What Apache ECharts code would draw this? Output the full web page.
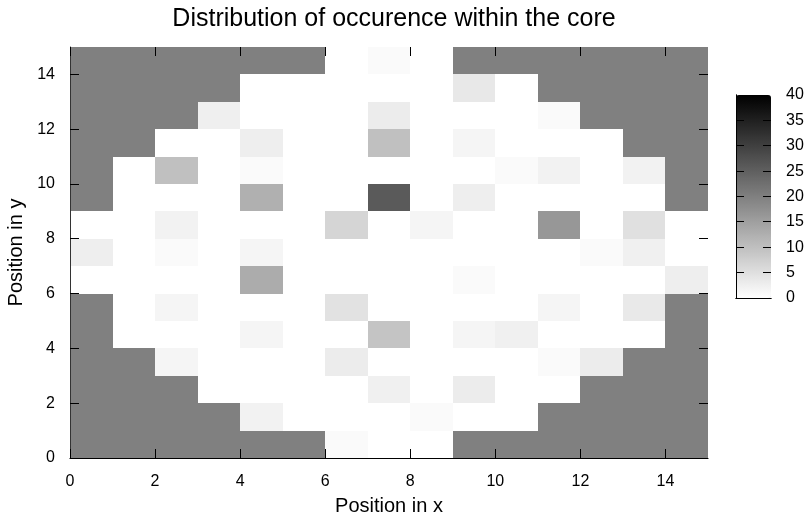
<!DOCTYPE html>
<html>
<head>
<meta charset="utf-8">
<script src="https://cdn.jsdelivr.net/npm/echarts@6/dist/echarts.min.js"></script>
<style>html,body{margin:0;padding:0;background:#fff;}#c{width:808px;height:515px;}</style>
</head>
<body>
<div id="c"></div>
<script>
// Cell positions (x and y cell index, each cell spans [i, i+1])
var xCells = [0,1,2,3,4,5,6,7,8,9,10,11,12,13,14];
var yCells = [0,1,2,3,4,5,6,7,8,9,10,11,12,13,14];
// Occurrence per row (y = 0 bottom ... 14 top), columns x = 0..14
var rowY0  = [20,20,20,20,20,20,0.8,0,0,20,20,20,20,20,20];
var rowY1  = [20,20,20,20,2,0,0,0,0.8,0,0,20,20,20,20];
var rowY2  = [20,20,20,0,0,0,0,2.4,0,3,0,0,20,20,20];
var rowY3  = [20,20,1.6,0,0,0,3,0,0,0,0,0.8,3,20,20];
var rowY4  = [20,0,0,0,1.6,0,0,9.3,0,1.6,2.4,0,0,0,20];
var rowY5  = [20,0,1.6,0,0,0,4.5,0,0,0,0,1.6,0,3.5,20];
var rowY6  = [0,0,0,0,13,0,0,0,0,0.8,0,0,0,0,2.7];
var rowY7  = [2.7,0,0.8,0,1.6,0,0,0,0,0,0,0,0.8,2.4,0];
var rowY8  = [0,0,2,0,0,0,6.6,0,1.6,0,0,16.3,0,4.9,0];
var rowY9  = [20,0,0,0,12.4,0,0,25.9,0,2.7,0,0,0,0,20];
var rowY10 = [20,0,9.9,0,0.8,0,0,0,0,0,0.8,2,0,2,20];
var rowY11 = [20,20,0,0,2.7,0,0,9.9,0,1.6,0,0,0,20,20];
var rowY12 = [20,20,20,2.5,0,0,0,3,0,0,0,0.8,20,20,20];
var rowY13 = [20,20,20,20,0,0,0,0,0,3.6,0,20,20,20,20];
var rowY14 = [20,20,20,20,20,20,0,0.8,0,20,20,20,20,20,20];
// Tick labels
var axisTicks = [0,2,4,6,8,10,12,14];
var colorTicks = [0,5,10,15,20,25,30,35,40];

var rows = [rowY0,rowY1,rowY2,rowY3,rowY4,rowY5,rowY6,rowY7,rowY8,rowY9,rowY10,rowY11,rowY12,rowY13,rowY14];
var data = [];
rows.forEach(function (r, yi) { r.forEach(function (v, xi) { data.push([xCells[xi], yCells[yi], v]); }); });
var tickData = axisTicks.map(function (t) { return [t, t]; });
var cTickData = colorTicks.filter(function (t) { return t > 0 && t < 40; }).map(function (t) { return [0, t]; });

var FONT = 'Liberation Sans, Arial, sans-serif';
var chart = echarts.init(document.getElementById('c'), null, {renderer: 'canvas'});
var G = {left: 70, top: 47, width: 638, height: 411};
var C = {left: 736, top: 95, width: 35, height: 203};
var tickFmt = function (v) { return axisTicks.indexOf(v) >= 0 ? String(v) : ''; };
var TL = 9, CTL = 8;

function crisp(v) { return Math.round(v - 0.5) + 0.5; }
function line(x1, y1, x2, y2) {
  return {type: 'line', shape: {x1: x1, y1: y1, x2: x2, y2: y2},
          style: {stroke: '#000', lineWidth: 1}};
}

function renderCell(params, api) {
  var x = api.value(0), y = api.value(1);
  var p0 = api.coord([x, y + 1]);
  var p1 = api.coord([x + 1, y]);
  var x0 = Math.round(p0[0]), y0 = Math.round(p0[1]);
  var x1 = Math.round(p1[0]), y1 = Math.round(p1[1]);
  return {
    type: 'rect',
    shape: {x: x0, y: y0, width: x1 - x0, height: y1 - y0},
    style: {fill: api.visual('color'), stroke: null}
  };
}
// inward ticks on all four sides of the plot frame
function renderTick(params, api) {
  var t = api.value(0);
  var b = api.coord([t, 0]), tp = api.coord([t, 15]);
  var l = api.coord([0, t]), r = api.coord([15, t]);
  var bx = crisp(b[0]), ly = crisp(l[1]);
  return {type: 'group', children: [
    line(bx, b[1], bx, b[1] - TL),
    line(bx, tp[1], bx, tp[1] + TL),
    line(l[0], ly, l[0] + TL, ly),
    line(r[0], ly, r[0] - TL, ly)
  ]};
}
// inward ticks on both sides of the colour bar
function renderCTick(params, api) {
  var v = api.value(1);
  var l = api.coord([0, v]), r = api.coord([1, v]);
  var y = crisp(l[1]);
  return {type: 'group', children: [
    line(l[0], y, l[0] + CTL, y),
    line(r[0], y, r[0] - CTL, y)
  ]};
}

chart.setOption({
  animation: false,
  backgroundColor: '#fff',
  title: {
    text: 'Distribution of occurence within the core',
    left: 389, textAlign: 'center', top: 2,
    textStyle: {fontFamily: FONT, fontWeight: 'normal', fontSize: 25, color: '#000'}
  },
  grid: [
    {left: G.left, top: G.top, width: G.width, height: G.height, outerBoundsMode: 'none', containLabel: false},
    {left: C.left, top: C.top, width: C.width, height: C.height, outerBoundsMode: 'none', containLabel: false}
  ],
  xAxis: [
    {type: 'value', gridIndex: 0, min: 0, max: 15, interval: 2, position: 'bottom', z: 10,
     name: 'Position in x', nameLocation: 'middle', nameGap: 38,
     nameTextStyle: {fontFamily: FONT, fontSize: 20, color: '#000'},
     axisLine: {show: true, lineStyle: {color: '#bbb', width: 1}},
     axisTick: {show: false},
     axisLabel: {fontFamily: FONT, fontSize: 16, color: '#000', margin: 16, formatter: tickFmt, showMaxLabel: false},
     splitLine: {show: false}},
    {type: 'value', gridIndex: 0, min: 0, max: 15, interval: 2, position: 'top', z: 10,
     axisLine: {show: true, lineStyle: {color: '#000', width: 1}},
     axisTick: {show: false}, axisLabel: {show: false}, splitLine: {show: false}},
    {type: 'value', gridIndex: 1, min: 0, max: 1, position: 'bottom', z: 10,
     axisLine: {show: true, lineStyle: {color: '#000', width: 1}},
     axisTick: {show: false}, axisLabel: {show: false}, splitLine: {show: false}},
    {type: 'value', gridIndex: 1, min: 0, max: 1, position: 'top', z: 10,
     axisLine: {show: true, lineStyle: {color: '#000', width: 1}},
     axisTick: {show: false}, axisLabel: {show: false}, splitLine: {show: false}}
  ],
  yAxis: [
    {type: 'value', gridIndex: 0, min: 0, max: 15, interval: 2, position: 'left', z: 10,
     name: 'Position in y', nameLocation: 'middle', nameGap: 42, nameRotate: 90,
     nameTextStyle: {fontFamily: FONT, fontSize: 20, color: '#000'},
     axisLine: {show: false}, axisTick: {show: false},
     axisLabel: {fontFamily: FONT, fontSize: 16, color: '#000', margin: 15, formatter: tickFmt, showMaxLabel: false},
     splitLine: {show: false}},
    {type: 'value', gridIndex: 0, min: 0, max: 15, interval: 2, position: 'right', z: 10,
     axisLine: {show: true, lineStyle: {color: '#333', width: 1}},
     axisTick: {show: false}, axisLabel: {show: false}, splitLine: {show: false}},
    {type: 'value', gridIndex: 1, min: 0, max: 40, interval: 5, position: 'right', z: 10,
     axisLine: {show: true, lineStyle: {color: '#000', width: 1}},
     axisTick: {show: false},
     axisLabel: {fontFamily: FONT, fontSize: 16, color: '#000', margin: 15,
                 formatter: function (v) { return colorTicks.indexOf(v) >= 0 ? String(v) : ''; }},
     splitLine: {show: false}},
    {type: 'value', gridIndex: 1, min: 0, max: 40, interval: 5, position: 'left', z: 10,
     axisLine: {show: true, lineStyle: {color: '#000', width: 1}},
     axisTick: {show: false}, axisLabel: {show: false}, splitLine: {show: false}}
  ],
  visualMap: {
    type: 'continuous', min: 0, max: 40, seriesIndex: 0, dimension: 2,
    calculable: false, hoverLink: false, realtime: false,
    orient: 'vertical', left: C.left - 5, top: C.top - 5, padding: 5,
    itemWidth: C.width, itemHeight: C.height, text: null, showLabel: false,
    inRange: {color: ['#ffffff', '#000000']}
  },
  series: [
    {type: 'custom', xAxisIndex: 0, yAxisIndex: 0, data: data, z: 2,
     dimensions: ['x', 'y', 'occurrence'], encode: {x: 0, y: 1},
     renderItem: renderCell, silent: true},
    {type: 'custom', xAxisIndex: 0, yAxisIndex: 0, data: tickData, z: 20, clip: false,
     encode: {x: 0, y: 1}, renderItem: renderTick, silent: true},
    {type: 'custom', xAxisIndex: 2, yAxisIndex: 2, data: cTickData, z: 20, clip: false,
     encode: {x: 0, y: 1}, renderItem: renderCTick, silent: true}
  ]
});
</script>
</body>
</html>
